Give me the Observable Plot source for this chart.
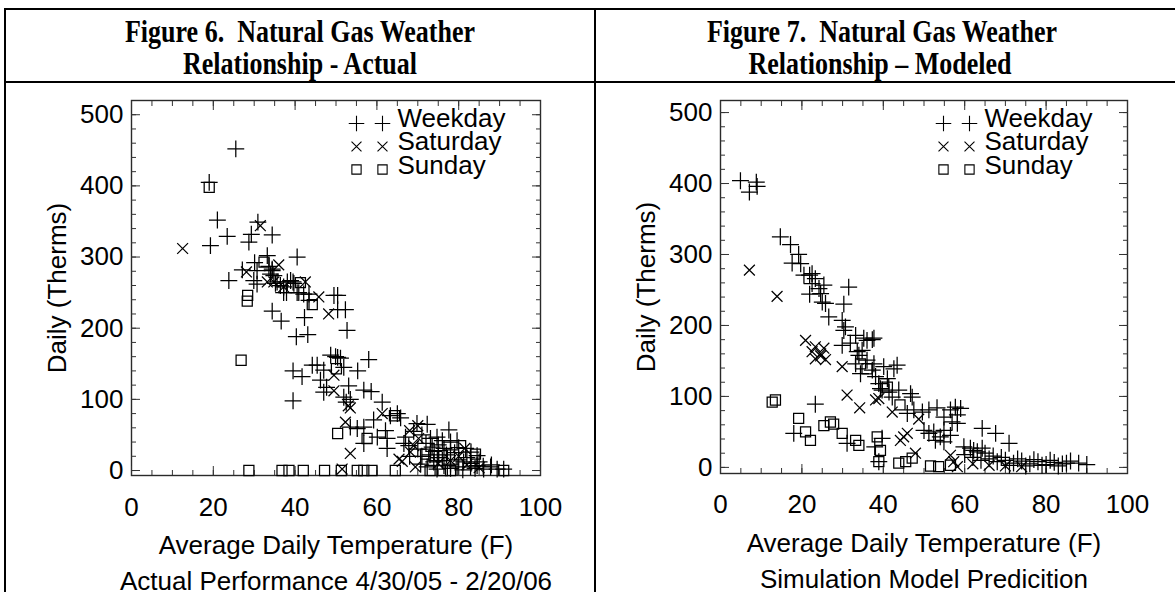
<!DOCTYPE html>
<html>
<head>
<meta charset="utf-8">
<script src="https://cdn.jsdelivr.net/npm/d3@7"></script>
<script src="https://cdn.jsdelivr.net/npm/@observablehq/plot@0.6"></script>
<style>
  html, body { margin: 0; padding: 0; background: #fff; }
  #page { position: relative; width: 1175px; height: 592px; overflow: hidden; background: #fff; }
  .line { position: absolute; background: #000; }
  .title { position: absolute; width: 580px; text-align: center; white-space: pre;
           font-family: "Liberation Serif", "Times New Roman", serif; font-weight: bold;
           font-size: 26px; line-height: 26px; color: #000;
           transform: scaleY(1.22); transform-origin: 50% 22px; }
  .panel { position: absolute; top: 95px; }
</style>
</head>
<body>
<div id="page">
  <div class="line" style="left:4px;top:8px;width:1171px;height:2px"></div>
  <div class="line" style="left:4px;top:81px;width:1171px;height:2px"></div>
  <div class="line" style="left:4px;top:8px;width:2px;height:600px"></div>
  <div class="line" style="left:594px;top:8px;width:2px;height:600px"></div>
  <div class="title" id="t1a" style="left:10px;top:21px"></div>
  <div class="title" id="t1b" style="left:10px;top:53px"></div>
  <div class="title" id="t2a" style="left:592px;top:21px"></div>
  <div class="title" id="t2b" style="left:590px;top:53px"></div>
  <div class="panel" id="left" style="left:0px"></div>
  <div class="panel" id="right" style="left:589px"></div>
</div>
<script>
// ---------- text ----------
const titleActual = ["Figure 6.  Natural Gas Weather", "Relationship - Actual"];
const titleModeled = ["Figure 7.  Natural Gas Weather", "Relationship \u2013 Modeled"];
const xTitle = "Average Daily Temperature (F)";
const yTitle = "Daily (Therms)";
const subtitleActual = "Actual Performance 4/30/05 - 2/20/06";
const subtitleModeled = "Simulation Model Predicition";

// ---------- categories / ticks ----------
const categories = ["Weekday", "Saturday", "Sunday"];
const xTickLabels = [0, 20, 40, 60, 80, 100];
const yTickLabels = [0, 100, 200, 300, 400, 500];

// ---------- data: [temperature F, therms] ----------
const actualWeekday = [
  [25.5,452],[19,405],[21,352],[19.3,316],[23.4,329],[28.7,321],[29.3,332],[30.9,349],[34.4,331],
  [23.8,267],[27.1,282],[30.1,292],[30.7,281],[29.9,267],[33.2,302],[33.6,287],[34.4,281],[34.8,274],
  [34,276],[34.4,283],[35.2,263],[35.6,265],[36.4,260],[37.2,258],[38.1,265],[38.9,267],[39.7,263],
  [39.5,265],[37.2,250],[37.9,250],[40.5,250],[40.9,250],[42.1,248],[43.4,248],[40.5,300],[43.4,239],
  [49.5,246],[50.4,246],[50.4,226],[52.3,226],[34.4,224],[36.6,210],[40.3,188],[42.3,215],[43.1,191],
  [52.7,197],[30.7,262],
  [48.7,162],[49.9,160],[50.4,159],[51.1,158],[58,156],[39.5,140],[41.7,132],[44.2,148],[45.4,148],
  [47,141],[51.9,145],[55.3,140],[46.2,127],[47.7,117],[47,110],[53.1,119],[56.8,113],[58.6,111],
  [39.5,98],[51.9,103],[52.5,96],[53.5,100],[61.3,96],[63.3,77],[65,80],[65.8,74],[59.2,71],
  [53.5,61],[55.2,59],[56.8,61],[56.8,38],[60.1,47],[62.1,56],[62.5,45],[62.5,31],[69.8,66],
  [72.3,65],[77.6,57],[67,47],[66.6,38],[67.8,35],[73.1,45],[74.7,47],[76,42],[78,40],[79.6,42],
  [73.5,33],[76.4,31],[78,29],[80,32],[81.7,31],[84.5,21],[70.7,9],[72.3,5],[73.9,12],[74.7,2],
  [76.4,7],[78,9],[79.6,5],[81.2,12],[82.9,5],[84.5,7],[86.1,2],[87.8,5],[89.4,2],[91,2],
  [71,20],[75,18],[77,22],[80,15],[82,18],[83,10],[85,12],[88,8],[86,6],[79,25],[74,27],[76,14],
  [78,3],[81,1],[84,3],[73,22],[70,30],[68,20],[72,38],[75,36],[83,26],[69,55],[71,50]
];
const actualSaturday = [
  [12.5,312],[31.5,344],[28.1,279],[36,289],[33.2,265],[34.8,265],[37.2,258],[42.5,265],[45.8,244],
  [48.2,220],[49.5,134],[49.5,112],[53,91],[53.5,88],[52.3,68],[53.5,24],[61.3,80],[68,56],[70,63],
  [70.2,45],[69,35],[68.2,26],[65.4,16],[66.2,13],[81.5,31],[69.4,5],[51.5,2],[75,10],[78,14],
  [82,8],[85,4],[80,20]
];
const actualSunday = [
  [19,398],[28.4,246],[28.3,238],[32.4,293],[26.8,155],[41.3,264],[44.2,233],[50.1,143],[64.3,77],
  [50.4,52],[57.6,45],[84.1,23],[71.9,23],[73.9,21],[76,21],
  [28.7,0],[36.8,0],[38.5,0],[42,0],[47.2,0],[51.3,0],[55.2,0],[56.8,0],[58.8,0],[64.5,0],[73,0],
  [76,0],[78,0],[91,0]
];
const modeledWeekday = [
  [4.9,404],[7.1,388],[8.8,402],[9,396],[14.7,325],[17.2,314],[17.6,288],[19.2,300],[19.7,287],
  [20.5,271],[21.9,271],[22.5,273],[23.3,266],[22.5,259],[24.2,252],[25.4,257],[21.9,244],[24.6,245],
  [25,233],[25.8,231],[26.6,212],[31.5,254],[30.3,230],[29.9,207],[30.7,198],[30.3,193],[33.2,186],
  [36,179],[37.3,180],[29.9,172],[31.9,175],[34.8,165],[34,158],[35.2,182],[37.7,182],[33.6,163],
  [33.2,146],[36,151],[37.7,146],[34.4,132],[37.3,137],[38.1,128],[40.1,142],[42.6,139],[43.4,144],
  [38.9,118],[39.7,109],[39.3,111],[41,125],[41.4,106],[42.2,99],[43.8,109],[46.7,104],[47.1,99],
  [45.9,76],[47.5,81],[49.6,78],[51.2,81],[53.2,84],[54.9,71],[56.5,81],[57.7,85],[59,83],[58.2,74],
  [56.9,64],[58.2,62],[23.3,89],[18,48],[31.1,34],[37.9,29],[39.7,41],[38.9,8],[50,52],[51.2,48],
  [52.4,50],[54,43],[54.9,52],[56.5,45],[52.8,38],[54.9,36],[64.3,55],[67.6,48],[70.9,34],[59.8,29],
  [61.4,27],[62.2,24],[63.1,22],[64.3,27],
  [66,12],[68,8],[70,10],[72,6],[74,9],[76,5],[78,8],[80,4],[82,7],[84,5],[86,9],[88,6],[90,4],
  [67,16],[69,14],[71,3],[73,12],[75,2],[77,11],[79,3],[81,10],[83,2],[85,6],[60,18],[62,14],[64,10],[65,20]
];
const modeledSaturday = [
  [7.1,278],[13.9,241],[20.9,179],[23.3,170],[25.4,168],[22.5,163],[24.6,160],[23.3,153],[25.8,152],
  [24.6,157],[29.9,142],[31.1,102],[34.2,84],[38.1,95],[38.9,97],[42.2,78],[48.7,68],[45,43],[44.2,38],
  [45.9,48],[47.9,20],[56.5,17],[57.3,8],[58.2,1],[62,5],[66,3],[70,2],[74,1]
];
const modeledSunday = [
  [12.7,92],[13.5,95],[19.2,69],[20.9,50],[22.1,38],[25.4,59],[27,64],[27.8,61],[29.9,48],[33.2,38],
  [34,31],[34.4,146],[36,139],[38.5,43],[39.3,24],[38.9,8],[40.1,118],[41,113],[44.1,88],[43.8,6],
  [45.5,8],[47.1,13],[51.6,2],[53.6,1],[56.5,3]
];

// ---------- styling ----------
const symbolNames = ["plus", "times", "square2"];
const symbolR = [5.5, 5, 6.4];
const FONT = "'Liberation Sans', Arial, Helvetica, sans-serif";

function panel({series, yDomain, frameBottom, subtitle, width, marginRight, xPad}) {
  const top = 95, frameTop = 100, height = 592 - top;
  const marginTop = frameTop - top, marginBottom = height - (frameBottom - top);
  const xMinor = d3.range(0, 101, 5);
  const yMinor = d3.range(0, 501, 20);
  const tickStroke = "#333";
  const marks = [
    Plot.frame({stroke: "#2a2a2a", strokeWidth: 1.4}),
    // inward minor ticks
    Plot.axisX({ticks: xMinor, anchor: "bottom", tickSize: 5, dy: -5, fill: "none", label: null, stroke: tickStroke}),
    Plot.axisX({ticks: xMinor, anchor: "top", tickSize: 5, dy: 5, fill: "none", label: null, stroke: tickStroke}),
    Plot.axisY({ticks: yMinor, anchor: "left", tickSize: 5, dx: 5, fill: "none", label: null, stroke: tickStroke}),
    Plot.axisY({ticks: yMinor, anchor: "right", tickSize: 5, dx: -5, fill: "none", label: null, stroke: tickStroke}),
    // inward major ticks
    Plot.axisX({ticks: xTickLabels, anchor: "bottom", tickSize: 9, dy: -9, fill: "none", label: null, stroke: tickStroke}),
    Plot.axisX({ticks: xTickLabels, anchor: "top", tickSize: 9, dy: 9, fill: "none", label: null, stroke: tickStroke}),
    Plot.axisY({ticks: yTickLabels, anchor: "left", tickSize: 9, dx: 9, fill: "none", label: null, stroke: tickStroke}),
    Plot.axisY({ticks: yTickLabels, anchor: "right", tickSize: 9, dx: -9, fill: "none", label: null, stroke: tickStroke}),
    // tick labels
    Plot.axisX({ticks: xTickLabels, anchor: "bottom", tickSize: 0, tickPadding: xPad, label: null, fontSize: 26}),
    Plot.axisY({ticks: yTickLabels, anchor: "left", tickSize: 0, tickPadding: 8, label: null, fontSize: 26}),
    // axis titles
    Plot.text([xTitle], {frameAnchor: "bottom", dy: 70, lineAnchor: "middle", textAnchor: "middle", fontSize: 26}),
    Plot.text([subtitle], {frameAnchor: "bottom", dy: 106, lineAnchor: "middle", textAnchor: "middle", fontSize: 26}),
    Plot.text([yTitle], {frameAnchor: "left", dx: -74, rotate: -90, lineAnchor: "middle", textAnchor: "middle", fontSize: 26})
  ];
  // data points
  series.forEach((data, i) => {
    marks.push(Plot.dot(data, {x: d => d[0], y: d => d[1], symbol: symbolNames[i], r: symbolR[i],
      stroke: "#000", strokeWidth: 1.25, fill: "none"}));
  });
  // legend
  categories.forEach((name, i) => {
    marks.push(Plot.dot([name], {frameAnchor: "top-right", dx: -184, dy: 23 + 23 * i, symbol: symbolNames[i], r: symbolR[i] * 0.92, stroke: "#000", strokeWidth: 1.1, fill: "none"}));
    marks.push(Plot.dot([name], {frameAnchor: "top-right", dx: -158, dy: 23 + 23 * i, symbol: symbolNames[i], r: symbolR[i] * 0.92, stroke: "#000", strokeWidth: 1.1, fill: "none"}));
    marks.push(Plot.text([name], {frameAnchor: "top-right", dx: -143, dy: 18 + 23.5 * i, text: d => d, textAnchor: "start", lineAnchor: "middle", fontSize: 26}));
  });
  return Plot.plot({
    width, height, marginLeft: 131, marginRight, marginTop, marginBottom,
    style: {fontFamily: FONT, fontSize: "26px", color: "#000", background: "transparent", overflow: "visible"},
    x: {domain: [0, 100]},
    y: {domain: yDomain},
    marks
  });
}

document.getElementById("t1a").textContent = titleActual[0];
document.getElementById("t1b").textContent = titleActual[1];
document.getElementById("t2a").textContent = titleModeled[0];
document.getElementById("t2b").textContent = titleModeled[1];

document.getElementById("left").append(panel({
  series: [actualWeekday, actualSaturday, actualSunday],
  yDomain: [-7, 520], frameBottom: 475, subtitle: subtitleActual, width: 590, marginRight: 50, xPad: 22
}));
document.getElementById("right").append(panel({
  series: [modeledWeekday, modeledSaturday, modeledSunday],
  yDomain: [-8.6, 517], frameBottom: 473, subtitle: subtitleModeled, width: 586, marginRight: 48, xPad: 21
}));
</script>
</body>
</html>
